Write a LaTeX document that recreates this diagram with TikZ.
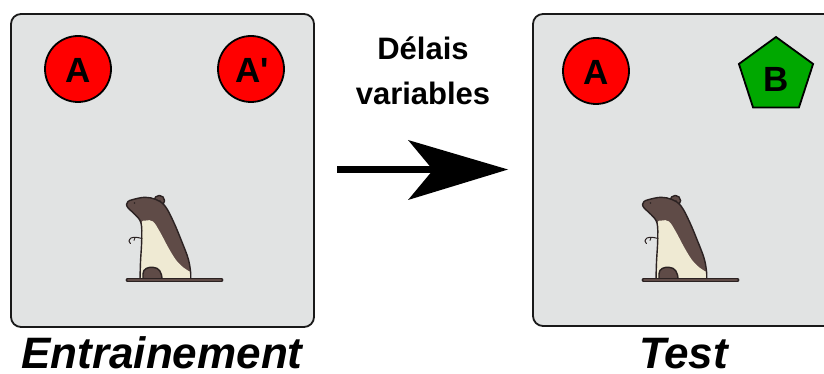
\documentclass[tikz,border=0pt]{standalone}
\usepackage{fontspec}
\newfontfamily\lsans{Liberation Sans}
\usetikzlibrary{shapes.geometric}
\definecolor{boxgray}{HTML}{E1E3E3}
\definecolor{ratbrown}{HTML}{5F4B47}
\definecolor{ratcream}{HTML}{EFEAD3}
\definecolor{ratline}{HTML}{2B2222}
\definecolor{objred}{HTML}{FF0000}
\definecolor{objgreen}{HTML}{00A800}
\tikzset{
  arena/.style={draw=black!90, line width=1.8pt, fill=boxgray, rounded corners=10pt},
  objcircle/.style={circle, draw=black, line width=1.8pt, fill=objred, minimum size=66pt, inner sep=0pt},
  objpent/.style={regular polygon, regular polygon sides=5, draw=black, line width=1.8pt, fill=objgreen, minimum size=78pt, inner sep=0pt},
  objlabel/.style={font=\lsans\bfseries\fontsize{35}{38}\selectfont, inner sep=0pt},
  headlabel/.style={font=\lsans\bfseries\fontsize{31}{40}\selectfont, inner sep=0pt, anchor=base},
  caption/.style={font=\lsans\bfseries\itshape\fontsize{44}{50}\selectfont, inner sep=0pt, text depth=0pt, anchor=base},
  ratfill/.style={fill=ratbrown},
  ratstroke/.style={draw=ratline, line width=1.4pt, line join=round},
}
\newcommand\drawrat{%
  % ear
  \filldraw[ratfill, ratstroke] (159.3,200.7) circle (5.3);
  \draw[ratline, line width=0.7pt] (156.5,202.5) arc[start angle=200, end angle=300, radius=3];
  % body
  \fill[ratbrown] plot[smooth, tension=0.6] coordinates {(140,280) (140.5,262) (141.7,240) (141,223) (135,214.5) (128.5,208.5) (126.5,204.5) (128,201.5) (133,199.5) (145,197.3) (156,199.5) (165,206) (173.3,221.3) (181.7,241.3) (188,258) (190.5,271) (190.7,280)} -- cycle;
  % cream belly
  \fill[ratcream] plot[smooth, tension=0.6] coordinates {(140,280) (140.5,262) (141.7,240) (141.5,223) (146,220.5) (153,221.5) (160,232) (168,247) (176,260) (184,268) (190.6,272)} -- (190.7,280) -- cycle;
  \draw[ratstroke] plot[smooth, tension=0.6] coordinates {(140,280) (140.5,262) (141.7,240) (141,223) (135,214.5) (128.5,208.5) (126.5,204.5) (128,201.5) (133,199.5) (145,197.3) (156,199.5) (165,206) (173.3,221.3) (181.7,241.3) (188,258) (190.5,271) (190.7,280)};
  % eye
  \fill[ratline] (134.5,203) circle (0.9);
  % arm
  \draw[ratline, line width=1pt, line cap=round] plot[smooth] coordinates {(142,238.5) (136,237.3) (131,238) (129,241) (130.5,243.5)};
  \draw[ratline, line width=0.9pt, line cap=round] (135,237.6) -- (134,240.5);
  % haunch
  \filldraw[ratfill, ratstroke] (143,280) -- (143,274) .. controls (143,268.5) and (148,267) .. (153,267.3) .. controls (159,267.6) and (162,272) .. (162,280) -- cycle;
  % tail / base
  \draw[ratline, line width=3.8pt, line cap=round] (127.5,280) -- (221.5,280);
  \draw[ratbrown, line width=1.6pt, line cap=round] (128,280) -- (221,280);
}
\begin{document}
\begin{tikzpicture}[x=1pt, y=-1pt]
  \useasboundingbox (0,0) rectangle (824,374);
  \fill[white] (0,0) rectangle (824,374);
  \clip (0,0) rectangle (824,374);

  % arenas
  \draw[arena] (11,14) rectangle (314,327);
  \draw[arena] (533,14) rectangle (836,326);

  % objects, training
  \node[objcircle] (a1) at (78,69) {};
  \node[objlabel] (a1t) at (78,70.5) {A};
  \node[objcircle] (a2) at (251,69) {};
  \node[objlabel] (a2t) at (252,70.5) {A'};

  % objects, test
  \node[objcircle] (a3) at (596,71) {};
  \node[objlabel] (a3t) at (596,72.5) {A};
  \node[objpent] (b1) at (776,76) {};
  \node[objlabel] (b1t) at (776,79) {B};

  % rats
  \begin{scope}
    \drawrat
  \end{scope}
  \begin{scope}[xshift=516pt]
    \drawrat
  \end{scope}

  % delay label
  \node[headlabel] (d1) at (423,60) {Délais};
  \node[headlabel] (d2) at (423,105) {variables};

  % arrow
  \coordinate (arrS) at (337,170);
  \coordinate (arrN) at (436,170);
  \coordinate (arrT) at (508,169.5);
  \draw[black, line width=7pt] (arrS) -- (arrN);
  \fill[black] (arrT) -- (408,140) -- (433,170) -- (408,200) -- cycle;

  % captions
  \node[caption] (c1) at (162,368) {Entrainement};
  \node[caption] (c2) at (683.5,368) {Test};
\end{tikzpicture}
\end{document}
